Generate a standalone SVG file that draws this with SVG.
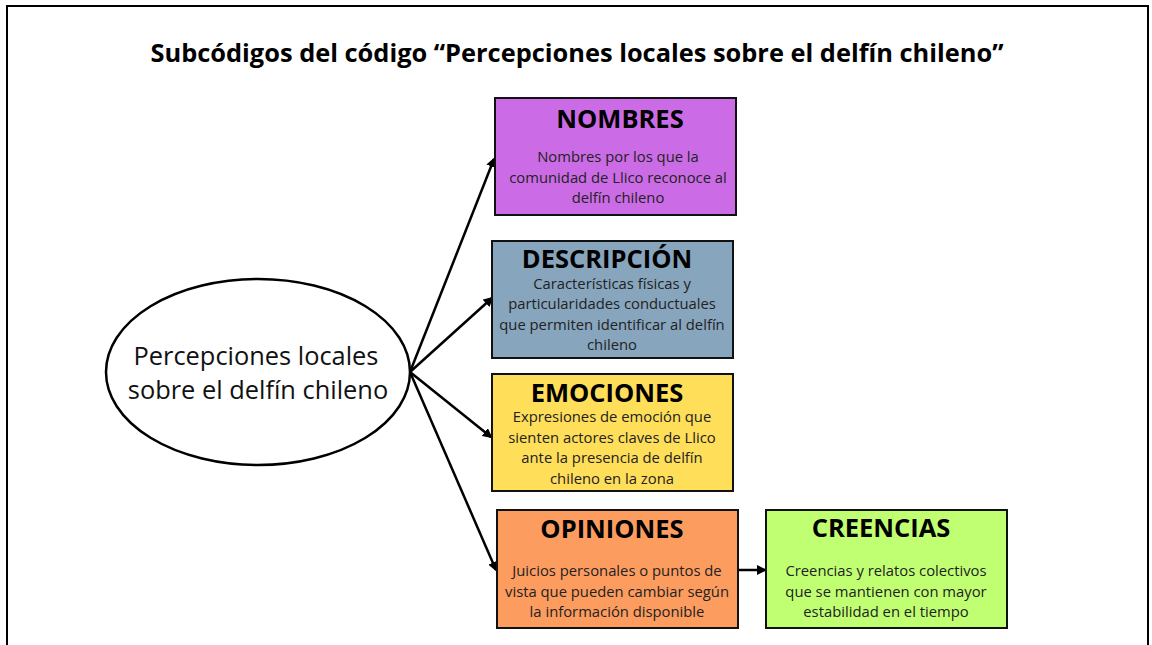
<svg xmlns="http://www.w3.org/2000/svg" width="1152" height="645" viewBox="0 0 1152 645">
<defs>
<style>
.frame{fill:#fff;stroke:#000;stroke-width:2}
.box{stroke:#111;stroke-width:2}
.hd{font-family:"Open Sans","Liberation Sans",sans-serif;font-weight:700;font-size:25.5px;fill:#000;text-anchor:middle}
.bd{font-family:"Open Sans","Liberation Sans",sans-serif;font-size:14.8px;fill:#222;text-anchor:middle}
.title{font-family:"Open Sans","Liberation Sans",sans-serif;font-weight:700;font-size:25.4px;fill:#000;text-anchor:middle}
.el{font-family:"Open Sans","Liberation Sans",sans-serif;font-size:25.4px;fill:#111;text-anchor:middle}
.conn{stroke:#000;stroke-width:2.5;fill:none;marker-end:url(#arr)}
</style>
<marker id="arr" markerWidth="10" markerHeight="10" refX="8" refY="5" orient="auto" markerUnits="userSpaceOnUse">
<path d="M0,0 L10,5 L0,10 z" fill="#000"/>
</marker>
</defs>
<rect x="0" y="0" width="1152" height="645" fill="#fff"/>
<rect class="frame" x="7" y="6" width="1141" height="660"/>
<text class="title" x="577" y="62">Subcódigos del código “Percepciones locales sobre el delfín chileno”</text>

<g id="connectors">
<line class="conn" x1="410" y1="372" x2="494" y2="159"/>
<line class="conn" x1="410" y1="372" x2="492" y2="298"/>
<line class="conn" x1="410" y1="372" x2="491" y2="437"/>
<line class="conn" x1="410" y1="372" x2="496" y2="570"/>
<line class="conn" x1="738" y1="570" x2="765" y2="570"/>
</g>

<g id="center">
<ellipse cx="258" cy="372" rx="152" ry="93" fill="#fff" stroke="#000" stroke-width="2.5"/>
<text class="el" x="256" y="365">Percepciones locales</text>
<text class="el" x="258" y="399">sobre el delfín chileno</text>
</g>

<g id="nombres">
<rect class="box" x="495" y="98" width="241" height="117" fill="#cb6ce6"/>
<text class="hd" x="620" y="128">NOMBRES</text>
<text class="bd" x="618" y="162">Nombres por los que la</text>
<text class="bd" x="618" y="183">comunidad de Llico reconoce al</text>
<text class="bd" x="618" y="203">delfín chileno</text>
</g>

<g id="descripcion">
<rect class="box" x="492" y="241" width="241" height="117" fill="#87a5bd"/>
<text class="hd" x="607" y="268">DESCRIPCIÓN</text>
<text class="bd" x="612" y="289">Características físicas y</text>
<text class="bd" x="612" y="309">particularidades conductuales</text>
<text class="bd" x="612" y="330">que permiten identificar al delfín</text>
<text class="bd" x="612" y="350">chileno</text>
</g>

<g id="emociones">
<rect class="box" x="492" y="374" width="241" height="117" fill="#ffde59"/>
<text class="hd" x="607" y="402">EMOCIONES</text>
<text class="bd" x="612" y="422">Expresiones de emoción que</text>
<text class="bd" x="612" y="443">sienten actores claves de Llico</text>
<text class="bd" x="612" y="463">ante la presencia de delfín</text>
<text class="bd" x="612" y="484">chileno en la zona</text>
</g>

<g id="opiniones">
<rect class="box" x="497" y="510" width="241" height="118" fill="#fd9c5f"/>
<text class="hd" x="612" y="538">OPINIONES</text>
<text class="bd" x="617" y="576">Juicios personales o puntos de</text>
<text class="bd" x="617" y="597">vista que pueden cambiar según</text>
<text class="bd" x="617" y="617">la información disponible</text>
</g>

<g id="creencias">
<rect class="box" x="766" y="510" width="241" height="118" fill="#c1ff72"/>
<text class="hd" x="881" y="537">CREENCIAS</text>
<text class="bd" x="886" y="576">Creencias y relatos colectivos</text>
<text class="bd" x="886" y="597">que se mantienen con mayor</text>
<text class="bd" x="886" y="617">estabilidad en el tiempo</text>
</g>
</svg>
